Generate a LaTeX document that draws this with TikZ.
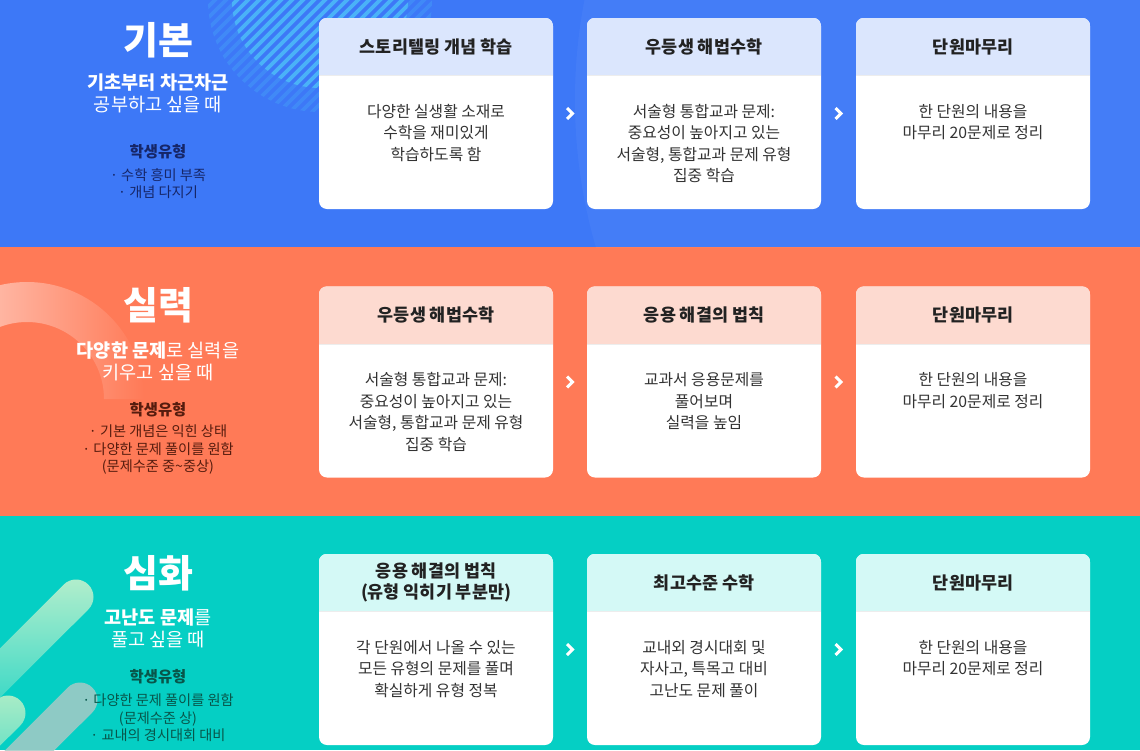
\documentclass[tikz,border=0pt]{standalone}
\usepackage{fontspec}
\setmainfont{Noto Sans CJK KR}
\definecolor{bgblue}{RGB}{61,120,247}
\definecolor{bgorange}{RGB}{255,122,87}
\definecolor{bgteal}{RGB}{5,207,196}
\definecolor{headblue}{RGB}{219,230,253}
\definecolor{headorange}{RGB}{253,218,208}
\definecolor{headteal}{RGB}{212,249,246}
\definecolor{inkdark}{RGB}{34,34,34}
\definecolor{inkbody}{RGB}{51,51,51}
\definecolor{navytype}{RGB}{22,38,104}
\definecolor{browntype}{RGB}{86,28,14}
\definecolor{greentype}{RGB}{8,86,74}
\definecolor{stripecyan}{RGB}{74,178,248}
\definecolor{mintlight}{RGB}{170,236,198}
\definecolor{mintgrey}{RGB}{166,202,198}
\usetikzlibrary{positioning,calc}

\begin{document}
\begin{tikzpicture}[x=1pt, y=-1pt,
  card/.style={
    rectangle, rounded corners=8pt,
    minimum width=234pt, minimum height=191pt,
    fill=white, inner sep=0pt
  },
  cardtitle/.style={font=\fontsize{17.4}{21}\selectfont\bfseries, text=inkdark, align=center},
  cardtext/.style={font=\fontsize{15.8}{21.5}\selectfont, text=inkbody, align=center, anchor=north, inner sep=0pt},
  leveltitle/.style={font=\fontsize{38}{42}\selectfont\bfseries, text=white},
  levelsub/.style={font=\fontsize{18.6}{22}\selectfont, text=white, align=center},
  typehead/.style={font=\fontsize{15.4}{18}\selectfont\bfseries},
  typeitem/.style={font=\fontsize{14.2}{17.5}\selectfont, align=center},
  chev/.style={draw=white, line width=3pt, miter limit=4},
  stripe/.style={line width=3.6pt}
]
\useasboundingbox (0,0) rectangle (1140,750);

% bands
\fill[bgblue]   (0,0)   rectangle (1140,247);
\fill[bgorange] (0,247) rectangle (1140,516);
\fill[bgteal]   (0,516) rectangle (1140,750);

% band decorations
\begin{scope}
  \clip (0,0) rectangle (1140,247);
  \fill[white, opacity=.04] (1100,100) circle (525);
  \begin{scope}
    \clip (320,0) circle (112);
    \foreach \k in {0,...,30} \draw[stripe, stripecyan, opacity=.3] ({30+\k*11},130) -- ++(140,-140);
  \end{scope}
  \begin{scope}
    \clip (320,0) circle (88);
    \foreach \k in {0,...,30} \draw[stripe, stripecyan] ({30+\k*11},130) -- ++(140,-140);
  \end{scope}
\end{scope}
\begin{scope}
  \clip (0,247) rectangle (1140,516);
  \shade[left color=white!72!bgorange, right color=bgorange]
    (27,399) ++(180:117) arc[start angle=180, end angle=360, radius=117]
    -- ++(-40,0) arc[start angle=360, end angle=180, radius=77] -- cycle;
\end{scope}
\begin{scope}
  \clip (0,516) rectangle (1140,750);
  \shade[top color=mintlight, bottom color=bgteal!85!mintlight]
    (8,713) ++(45:17.5) arc[start angle=45, end angle=-135, radius=17.5]
    -- ++(-100,100) -- ++(24.7,24.7) -- cycle;
  \fill[mintgrey, opacity=.85]
    (80,700) ++(45:17.5) arc[start angle=45, end angle=-135, radius=17.5]
    -- ++(-100,100) -- ++(24.7,24.7) -- cycle;
  \shade[top color=mintlight!90!white, bottom color=bgteal]
    (76,597) ++(45:17.5) arc[start angle=45, end angle=-135, radius=17.5]
    -- ++(-150,150) -- ++(24.7,24.7) -- cycle;
\end{scope}

% left column
\node[leveltitle] (lv1) at (158,40) {기본};
\node[levelsub]   (sub1) at (158,93) {\textbf{기초부터 차근차근}\\공부하고 싶을 때};
\node[typehead, text=navytype] (th1) at (158,152) {학생유형};
\node[typeitem, text=navytype] (ti1) at (158,183.5) {· 수학 흥미 부족\\· 개념 다지기};

\node[leveltitle] (lv2) at (158,305) {실력};
\node[levelsub]   (sub2) at (158,361) {\textbf{다양한 문제}로 실력을\\키우고 싶을 때};
\node[typehead, text=browntype] (th2) at (158,410) {학생유형};
\node[typeitem, text=browntype] (ti2) at (158,450) {· 기본 개념은 익힌 상태\\· 다양한 문제 풀이를 원함\\(문제수준 중\textasciitilde 중상)};

\node[leveltitle] (lv3) at (158,573) {심화};
\node[levelsub]   (sub3) at (158,628) {\textbf{고난도 문제}를\\풀고 싶을 때};
\node[typehead, text=greentype] (th3) at (158,677) {학생유형};
\node[typeitem, text=greentype] (ti3) at (158,718) {· 다양한 문제 풀이를 원함\\(문제수준 상)\\· 교내의 경시대회 대비};

% cards
\node[card] (c11) at (436,113.5) {};
\node[card] (c12) at (704,113.5) {};
\node[card] (c13) at (973,113.5) {};
\node[card] (c21) at (436,382) {};
\node[card] (c22) at (704,382) {};
\node[card] (c23) at (973,382) {};
\node[card] (c31) at (436,649.5) {};
\node[card] (c32) at (704,649.5) {};
\node[card] (c33) at (973,649.5) {};

\foreach \c/\h in {c11/headblue,c12/headblue,c13/headblue,c21/headorange,c22/headorange,c23/headorange,c31/headteal,c32/headteal,c33/headteal}{
  \begin{scope}
    \clip[rounded corners=8pt] (\c.north west) rectangle (\c.south east);
    \fill[\h] (\c.north west) rectangle ($(\c.north east)+(0,58)$);
  \end{scope}
  \draw[black!7, line width=1pt] ($(\c.north west)+(0,58)$) -- ($(\c.north east)+(0,58)$);
}

\node[cardtitle] (h11) at ($(c11.north)+(0,29)$) {스토리텔링 개념 학습};
\node[cardtitle] (h12) at ($(c12.north)+(0,29)$) {우등생 해법수학};
\node[cardtitle] (h13) at ($(c13.north)+(0,29)$) {단원마무리};
\node[cardtitle] (h21) at ($(c21.north)+(0,29)$) {우등생 해법수학};
\node[cardtitle] (h22) at ($(c22.north)+(0,29)$) {응용 해결의 법칙};
\node[cardtitle] (h23) at ($(c23.north)+(0,29)$) {단원마무리};
\node[cardtitle] (h31) at ($(c31.north)+(0,29)$) {응용 해결의 법칙\\(유형 익히기 부분만)};
\node[cardtitle] (h32) at ($(c32.north)+(0,29)$) {최고수준 수학};
\node[cardtitle] (h33) at ($(c33.north)+(0,29)$) {단원마무리};

\node[cardtext] (b11) at ($(c11.north)+(0,86)$) {다양한 실생활 소재로\\수학을 재미있게\\학습하도록 함};
\node[cardtext] (b12) at ($(c12.north)+(0,86)$) {서술형 통합교과 문제:\\중요성이 높아지고 있는\\서술형, 통합교과 문제 유형\\집중 학습};
\node[cardtext] (b13) at ($(c13.north)+(0,86)$) {한 단원의 내용을\\마무리 20문제로 정리};
\node[cardtext] (b21) at ($(c21.north)+(0,86)$) {서술형 통합교과 문제:\\중요성이 높아지고 있는\\서술형, 통합교과 문제 유형\\집중 학습};
\node[cardtext] (b22) at ($(c22.north)+(0,86)$) {교과서 응용문제를\\풀어보며\\실력을 높임};
\node[cardtext] (b23) at ($(c23.north)+(0,86)$) {한 단원의 내용을\\마무리 20문제로 정리};
\node[cardtext] (b31) at ($(c31.north)+(0,86)$) {각 단원에서 나올 수 있는\\모든 유형의 문제를 풀며\\확실하게 유형 정복};
\node[cardtext] (b32) at ($(c32.north)+(0,86)$) {교내외 경시대회 및\\자사고, 특목고 대비\\고난도 문제 풀이};
\node[cardtext] (b33) at ($(c33.north)+(0,86)$) {한 단원의 내용을\\마무리 20문제로 정리};

\draw[chev] ($(c11.east)!.5!(c12.west)+(-3,-5.5)$) -- ++(5.5,5.5) -- ++(-5.5,5.5);
\draw[chev] ($(c12.east)!.5!(c13.west)+(-3,-5.5)$) -- ++(5.5,5.5) -- ++(-5.5,5.5);
\draw[chev] ($(c21.east)!.5!(c22.west)+(-3,-5.5)$) -- ++(5.5,5.5) -- ++(-5.5,5.5);
\draw[chev] ($(c22.east)!.5!(c23.west)+(-3,-5.5)$) -- ++(5.5,5.5) -- ++(-5.5,5.5);
\draw[chev] ($(c31.east)!.5!(c32.west)+(-3,-5.5)$) -- ++(5.5,5.5) -- ++(-5.5,5.5);
\draw[chev] ($(c32.east)!.5!(c33.west)+(-3,-5.5)$) -- ++(5.5,5.5) -- ++(-5.5,5.5);
\end{tikzpicture}
\end{document}
